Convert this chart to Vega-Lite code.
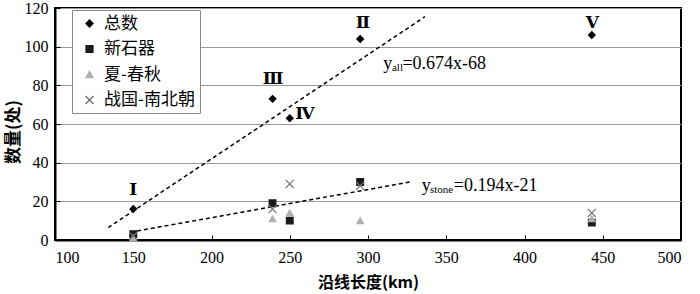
{
  "$schema": "https://vega.github.io/schema/vega-lite/v6.json",
  "width": 626,
  "height": 232,
  "autosize": {"type": "none"},
  "padding": {"left": 55, "top": 8, "right": 19, "bottom": 54},
  "background": "white",
  "config": {
    "view": {"stroke": "black", "strokeWidth": 2},
    "axis": {
      "labelFont": "Liberation Serif",
      "labelFontSize": 16,
      "labelColor": "black",
      "labelOverlap": false,
      "titleFont": "Noto Sans CJK SC",
      "titleFontSize": 16,
      "titleFontWeight": "bold",
      "titleColor": "black",
      "domainColor": "black",
      "domainWidth": 2,
      "tickColor": "black",
      "tickSize": -5
    },
    "legend": {
      "orient": "none",
      "legendX": 17,
      "legendY": 2,
      "strokeColor": "#888",
      "fillColor": "white",
      "padding": 5,
      "labelFont": "Noto Sans CJK SC",
      "labelFontSize": 17,
      "labelColor": "black",
      "rowPadding": 7.5,
      "labelOffset": 6,
      "symbolOffset": 4,
      "symbolSize": 45
    }
  },
  "datasets": {
    "pts": [
      {"x": 150, "y": 16, "s": "总数"},
      {"x": 239, "y": 73, "s": "总数"},
      {"x": 250, "y": 63, "s": "总数"},
      {"x": 295, "y": 104, "s": "总数"},
      {"x": 443, "y": 106, "s": "总数"},
      {"x": 150, "y": 3, "s": "新石器"},
      {"x": 239, "y": 19, "s": "新石器"},
      {"x": 250, "y": 10, "s": "新石器"},
      {"x": 295, "y": 30, "s": "新石器"},
      {"x": 443, "y": 9, "s": "新石器"},
      {"x": 150, "y": 1, "s": "夏-春秋"},
      {"x": 239, "y": 11, "s": "夏-春秋"},
      {"x": 250, "y": 14, "s": "夏-春秋"},
      {"x": 295, "y": 10, "s": "夏-春秋"},
      {"x": 443, "y": 11, "s": "夏-春秋"},
      {"x": 150, "y": 2, "s": "战国-南北朝"},
      {"x": 239, "y": 16, "s": "战国-南北朝"},
      {"x": 250, "y": 29, "s": "战国-南北朝"},
      {"x": 295, "y": 28, "s": "战国-南北朝"},
      {"x": 443, "y": 14, "s": "战国-南北朝"}
    ],
    "fits": [
      {"line": "all", "x": 134, "y": 6.4},
      {"line": "all", "x": 336.4, "y": 115.5},
      {"line": "stone", "x": 148, "y": 4},
      {"line": "stone", "x": 328, "y": 30.2}
    ],
    "roman": [
      {"x": 150, "y": 26, "t": "Ⅰ"},
      {"x": 296.8, "y": 112, "t": "Ⅱ"},
      {"x": 239.3, "y": 83.5, "t": "Ⅲ"},
      {"x": 259.7, "y": 65, "t": "Ⅳ"},
      {"x": 443.3, "y": 112.5, "t": "Ⅴ"}
    ],
    "eqY": [
      {"x": 309.8, "y": 88.7, "t": "y"},
      {"x": 334.3, "y": 25.6, "t": "y"}
    ],
    "eqSub": [
      {"x": 315.3, "y": 87.4, "t": "all"},
      {"x": 339.6, "y": 24.3, "t": "stone"}
    ],
    "eqRest": [
      {"x": 322, "y": 88.7, "t": "=0.674x-68"},
      {"x": 354.8, "y": 25.6, "t": "=0.194x-21"}
    ]
  },
  "layer": [
    {
      "data": {"name": "fits"},
      "mark": {"type": "line", "color": "black", "strokeWidth": 1.5, "strokeDash": [4, 3]},
      "encoding": {
        "x": {
          "field": "x", "type": "quantitative",
          "scale": {"domain": [100, 500], "nice": false, "zero": false},
          "axis": {
            "values": [100, 150, 200, 250, 300, 350, 400, 450, 500],
            "tickCount": 20,
            "grid": false,
            "labelPadding": 14,
            "title": "沿线长度(km)",
            "titleBaseline": "middle",
            "titleY": 42
          }
        },
        "y": {
          "field": "y", "type": "quantitative",
          "scale": {"domain": [0, 120], "nice": false},
          "axis": {
            "values": [0, 20, 40, 60, 80, 100, 120],
            "tickCount": 20,
            "grid": true,
            "gridColor": "#999",
            "gridWidth": 1,
            "labelPadding": 12,
            "title": "数量(处)",
            "titleAngle": -90,
            "titleBaseline": "middle",
            "titleAlign": "center",
            "titleX": -41.5,
            "titleY": 123.5,
            "titleFontSize": 17
          }
        },
        "detail": {"field": "line"}
      }
    },
    {
      "data": {"name": "pts"},
      "mark": {"type": "point", "filled": true, "size": 45, "strokeWidth": 1.2, "opacity": 1},
      "encoding": {
        "x": {"field": "x", "type": "quantitative"},
        "y": {"field": "y", "type": "quantitative"},
        "color": {
          "field": "s", "type": "nominal",
          "scale": {"domain": ["总数", "新石器", "夏-春秋", "战国-南北朝"], "range": ["#000000", "#1a1a1a", "#b0b0b0", "#777777"]},
          "legend": {
            "title": null,
            "encode": {"symbols": {"update": {"stroke": {"scale": "stroke", "field": "value"}, "strokeWidth": {"value": 1.2}}}}
          }
        },
        "stroke": {
          "field": "s", "type": "nominal",
          "scale": {"domain": ["总数", "新石器", "夏-春秋", "战国-南北朝"], "range": ["#000000", "#1a1a1a", "#b0b0b0", "#777777"]},
          "legend": null
        },
        "shape": {
          "field": "s", "type": "nominal",
          "scale": {"domain": ["总数", "新石器", "夏-春秋", "战国-南北朝"], "range": ["diamond", "square", "triangle-up", "M-1.2,-1.2L1.2,1.2M-1.2,1.2L1.2,-1.2"]},
          "legend": {"title": null}
        }
      }
    },
    {
      "data": {"name": "roman"},
      "mark": {"type": "text", "font": "DejaVu Serif", "fontSize": 17, "fontWeight": "bold", "color": "black", "baseline": "middle", "align": "center"},
      "encoding": {
        "x": {"field": "x", "type": "quantitative"},
        "y": {"field": "y", "type": "quantitative"},
        "text": {"field": "t"}
      }
    },
    {
      "data": {"name": "eqY"},
      "mark": {"type": "text", "font": "Liberation Serif", "fontSize": 18, "color": "black", "baseline": "alphabetic", "align": "left"},
      "encoding": {
        "x": {"field": "x", "type": "quantitative"},
        "y": {"field": "y", "type": "quantitative"},
        "text": {"field": "t"}
      }
    },
    {
      "data": {"name": "eqSub"},
      "mark": {"type": "text", "font": "Liberation Serif", "fontSize": 11, "color": "black", "baseline": "alphabetic", "align": "left"},
      "encoding": {
        "x": {"field": "x", "type": "quantitative"},
        "y": {"field": "y", "type": "quantitative"},
        "text": {"field": "t"}
      }
    },
    {
      "data": {"name": "eqRest"},
      "mark": {"type": "text", "font": "Liberation Serif", "fontSize": 18, "color": "black", "baseline": "alphabetic", "align": "left"},
      "encoding": {
        "x": {"field": "x", "type": "quantitative"},
        "y": {"field": "y", "type": "quantitative"},
        "text": {"field": "t"}
      }
    }
  ]
}
